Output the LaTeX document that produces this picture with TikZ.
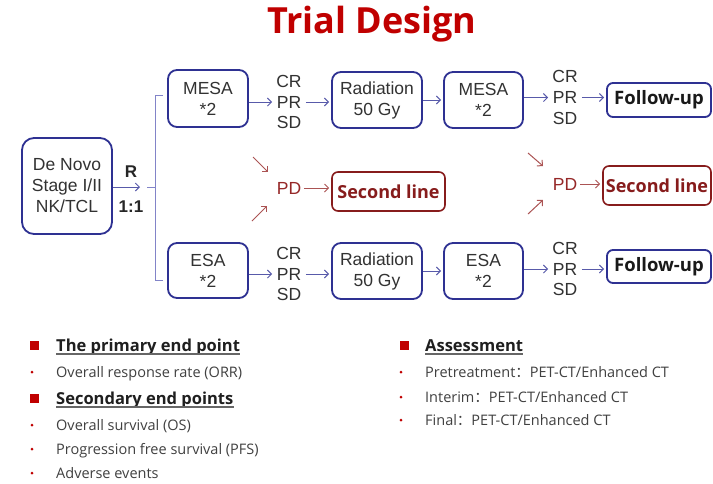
\documentclass[tikz,border=0pt]{standalone}
\usepackage{fontspec}
\setmainfont{Liberation Sans}
\newfontfamily\osans{Open Sans}
\newfontfamily\cjk{Noto Sans CJK SC}
\usetikzlibrary{arrows.meta}

\definecolor{boxblue}{RGB}{46,49,146}
\definecolor{arrowblue}{RGB}{88,90,170}
\definecolor{brack}{RGB}{130,132,200}
\definecolor{titlered}{RGB}{192,0,0}
\definecolor{slred}{RGB}{135,28,28}
\definecolor{pdred}{RGB}{150,40,40}
\definecolor{txt}{RGB}{50,50,50}
\definecolor{listtxt}{RGB}{64,64,64}

\begin{document}
\begin{tikzpicture}[x=1pt,y=-1pt,
  bx/.style={draw=boxblue,line width=1.8pt,rounded corners=9pt,align=center,
    text=txt,font=\fontsize{17.5}{21}\selectfont,inner sep=0pt},
  fubox/.style={draw=boxblue,line width=1.8pt,rounded corners=6pt,
    font=\osans\bfseries\fontsize{18.5}{21}\selectfont,text=black!90,inner sep=0pt,
    minimum width=104pt,minimum height=34pt},
  slbox/.style={draw=slred,line width=1.6pt,rounded corners=6pt,
    font=\osans\bfseries\fontsize{18}{21}\selectfont,text=slred,inner sep=0pt,
    minimum height=39pt},
  resp/.style={align=center,text=txt,font=\fontsize{17.5}{20.7}\selectfont,inner sep=1pt},
  pdtxt/.style={text=pdred,font=\fontsize{17.5}{21}\selectfont,inner sep=1pt},
  lbl/.style={text=black!85,font=\bfseries\fontsize{17}{20}\selectfont,inner sep=0pt},
  flow/.style={draw=arrowblue,line width=1pt,-{Straight Barb[length=4pt,width=8pt]}},
  pdflow/.style={draw=pdred!80,line width=1pt,-{Straight Barb[length=4pt,width=8pt]}},
  bracket/.style={draw=brack,line width=1pt},
  head/.style={anchor=base west,inner sep=0pt,text=black!88,
    font=\osans\bfseries\fontsize{16.5}{20}\selectfont},
  item/.style={anchor=base west,inner sep=0pt,text=listtxt,
    font=\osans\fontsize{14.5}{17}\selectfont},
  uline/.style={draw=black!60,line width=1.4pt},
  sq/.style={fill=titlered,inner sep=0pt,minimum size=9pt},
  dot/.style={circle,fill=titlered,inner sep=0pt,minimum size=3pt}
]
\useasboundingbox (0,0) rectangle (713,483);
\fill[white] (0,0) rectangle (713,483);

% title
\node[anchor=base,inner sep=0pt,text=titlered,font=\osans\bfseries\fontsize{36}{40}\selectfont]
  (title) at (372,33) {Trial Design};

% entry box and randomisation
\node[bx,minimum width=90pt,minimum height=96pt,rounded corners=12pt] (novo) at (67,186)
  {De Novo\\Stage I/II\\NK/TCL};
\coordinate (split) at (140,187);
\draw[flow] (novo.east |- split) -- (split);
\node[lbl] (rlab) at (131,172) {R};
\node[lbl] (ratio) at (131,207) {1:1};

\coordinate (brmid) at (147,187);
\coordinate (brjoin) at (155,187);
\coordinate (brtop) at (163,95);
\coordinate (brbot) at (163,280);
\draw[bracket] (brmid) -- (brjoin);
\draw[bracket] (brtop) -- (brjoin |- brtop) -- (brjoin |- brbot) -- (brbot);

% upper arm
\node[bx,minimum width=80pt,minimum height=57pt] (mesa1) at (208,98.5) {MESA\\*2};
\node[resp] (resp1) at (289,102) {CR\\PR\\SD};
\node[bx,minimum width=90pt,minimum height=56pt] (rad1) at (377,100) {Radiation\\50 Gy};
\node[bx,minimum width=79pt,minimum height=56pt] (mesa2) at (483.5,100) {MESA\\*2};
\node[resp] (resp2) at (565,97.5) {CR\\PR\\SD};
\node[fubox] (fu1) at (659,100) {Follow-up};

\draw[flow] (mesa1.east |- resp1.west) -- ([xshift=-3pt]resp1.west);
\draw[flow,shorten >=2pt] ([xshift=3pt]resp1.east) -- (rad1.west |- resp1.east);
\draw[flow,shorten >=2pt] (rad1) -- (mesa2);
\draw[flow] (mesa2.east |- resp2.west) -- ([xshift=-3pt]resp2.west);
\draw[flow,shorten >=2pt] ([xshift=3pt]resp2.east) -- (fu1.west |- resp2.east);

% lower arm
\node[bx,minimum width=80pt,minimum height=55pt] (esa1) at (208,270.5) {ESA\\*2};
\node[resp] (resp3) at (289,274) {CR\\PR\\SD};
\node[bx,minimum width=90pt,minimum height=56pt] (rad2) at (377,271) {Radiation\\50 Gy};
\node[bx,minimum width=79pt,minimum height=56pt] (esa2) at (483.5,271) {ESA\\*2};
\node[resp] (resp4) at (565,269) {CR\\PR\\SD};
\node[fubox,minimum height=33pt] (fu2) at (659,266.5) {Follow-up};

\draw[flow] (esa1.east |- resp3.west) -- ([xshift=-3pt]resp3.west);
\draw[flow,shorten >=2pt] ([xshift=3pt]resp3.east) -- (rad2.west |- resp3.east);
\draw[flow,shorten >=2pt] (rad2) -- (esa2);
\draw[flow] (esa2.east |- resp4.west) -- ([xshift=-3pt]resp4.west);
\draw[flow,shorten >=2pt] ([xshift=3pt]resp4.east) -- (fu2.west |- resp4.east);

% progression branches
\node[pdtxt] (pd1) at (289,188) {PD};
\node[slbox,minimum width=113pt] (sl1) at (388.5,191.5) {Second line};
\draw[pdflow,shorten >=2pt] ([xshift=2pt]pd1.east) -- (sl1.west |- pd1.east);
\coordinate (d1s) at (253,157); \coordinate (d1e) at (268,172);
\coordinate (d2s) at (252,221); \coordinate (d2e) at (267,206);
\draw[pdflow] (d1s) -- (d1e);
\draw[pdflow] (d2s) -- (d2e);

\node[pdtxt] (pd2) at (565,184) {PD};
\node[slbox,minimum width=108pt] (sl2) at (657,185.5) {Second line};
\draw[pdflow,shorten >=2pt] ([xshift=2pt]pd2.east) -- (sl2.west |- pd2.east);
\coordinate (d3s) at (528,153); \coordinate (d3e) at (543,166);
\coordinate (d4s) at (528,214); \coordinate (d4e) at (543,200);
\draw[pdflow] (d3s) -- (d3e);
\draw[pdflow] (d4s) -- (d4e);

% end points
\node[sq] (sq1) at (34.5,345) {};
\node[head] (h1) at (56,351) {The primary end point};
\draw[uline] ([yshift=-3pt]h1.base west) -- ([yshift=-3pt]h1.base east);
\node[dot] (b1) at (32,372) {};
\node[item] (i1) at (56,377) {Overall response rate (ORR)};

\node[sq] (sq2) at (34.5,398) {};
\node[head] (h2) at (56,404) {Secondary end points};
\draw[uline] ([yshift=-3pt]h2.base west) -- ([yshift=-3pt]h2.base east);
\node[dot] (b2) at (32,425) {};
\node[item] (i2) at (56,430) {Overall survival (OS)};
\node[dot] (b3) at (32,449) {};
\node[item] (i3) at (56,454) {Progression free survival (PFS)};
\node[dot] (b4) at (32,473) {};
\node[item] (i4) at (56,478) {Adverse events};

% assessment
\node[sq] (sq3) at (404,345) {};
\node[head] (h3) at (425,351) {Assessment};
\draw[uline] ([yshift=-3pt]h3.base west) -- ([yshift=-3pt]h3.base east);
\node[dot] (b5) at (401,372) {};
\node[item] (i5) at (425,377) {Pretreatment{\cjk ：}PET-CT/Enhanced CT};
\node[dot] (b6) at (401,397) {};
\node[item] (i6) at (425,402) {Interim{\cjk ：}PET-CT/Enhanced CT};
\node[dot] (b7) at (401,420) {};
\node[item] (i7) at (425,425) {Final{\cjk ：}PET-CT/Enhanced CT};
\end{tikzpicture}
\end{document}
